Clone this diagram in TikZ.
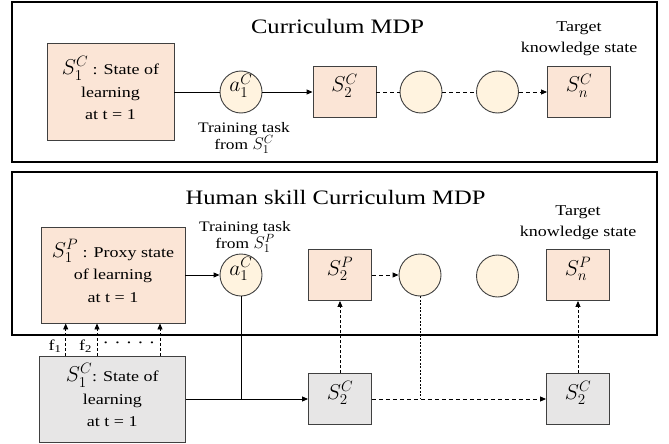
\documentclass[tikz,border=0pt]{standalone}
\usepackage{fix-cm}
\usepackage{fontspec}
\setmainfont{Liberation Serif}[FakeStretch=1.2]
\usepackage{graphicx}
\usetikzlibrary{arrows.meta}

\definecolor{peach}{HTML}{FBE5D6}
\definecolor{cream}{HTML}{FFF3DF}
\definecolor{greyfill}{HTML}{E7E6E6}
\definecolor{edgec}{HTML}{404040}

% font sizes (in pt; one picture unit is one pt)
\newcommand\bodysize{\fontsize{15}{22.5}\selectfont}
\newcommand\titlesize{\fontsize{20.5}{25}\selectfont}
\newcommand\notesize{\fontsize{15}{21}\selectfont}
\newcommand\tasksize{\fontsize{14.5}{17.5}\selectfont}
% state symbols are set larger than the surrounding text
\newcommand\stsym[1]{\smash{\fontsize{21.5}{23}\selectfont$#1$}}
\newcommand\smsym[1]{{\fontsize{17}{18}\selectfont$#1$}}

\begin{document}
\begin{tikzpicture}[x=1pt,y=-1pt,
  panel/.style={draw=black,line width=1.1pt},
  statebox/.style={draw=edgec,line width=0.9pt,fill=peach,inner sep=0pt,
    align=center,font=\bodysize},
  smallbox/.style={statebox,minimum width=63pt,minimum height=51pt},
  greybox/.style={statebox,fill=greyfill},
  taskcirc/.style={circle,draw=edgec,line width=0.9pt,fill=cream,
    minimum size=42pt,inner sep=0pt},
  wire/.style={draw=black,line width=0.9pt},
  headed/.style={-{Triangle[length=6pt,width=5pt]}},
  longdash/.style={dash pattern=on 4pt off 3pt},
  shortdash/.style={dash pattern=on 3pt off 2pt},
  finedash/.style={dash pattern=on 2pt off 1.5pt},
  caption/.style={inner sep=0pt,align=center}]

\fill[white] (0,0) rectangle (669,444);
\useasboundingbox (0,0) rectangle (669,444);

% ---------------- upper panel: curriculum MDP ----------------
\draw[panel] (12,2) rectangle (657,162);
\node[caption,font=\titlesize,anchor=base] (ttlA) at (337.5,34) {Curriculum MDP};
\node[caption,font=\notesize] (tgtA) at (579,39) {Target\\knowledge state};

\node[statebox,minimum width=127pt,minimum height=97pt] (s1c) at (110.5,92)
  {\stsym{S_1^C} : State of\\learning\\at t = 1};
\node[taskcirc] (a1t) at (241,92) {\stsym{a_1^C}};
\node[caption,font=\tasksize,anchor=north] (trA) at (244,122)
  {Training task\\from \smsym{S_1^C}};
\node[smallbox] (s2t) at (344.5,92) {\stsym{S_2^C}};
\node[taskcirc] (c2t) at (421,92) {};
\node[taskcirc] (c3t) at (497.5,92) {};
\node[smallbox] (snt) at (579,92) {\stsym{S_n^C}};

\draw[wire] (s1c.east) -- (a1t.west);
\draw[wire,headed] (a1t.east) -- (s2t.west);
\draw[wire,longdash] (s2t.east) -- (c2t.west);
\draw[wire,longdash] (c2t.east) -- (c3t.west);
\draw[wire,longdash,headed] (c3t.east) -- (snt.west);

% ---------------- lower panel: human skill curriculum MDP ----------------
\draw[panel] (12,172) rectangle (657,335);
\node[caption,font=\titlesize,anchor=base] (ttlB) at (335.5,204)
  {Human skill Curriculum MDP};
\node[caption,font=\notesize] (tgtB) at (578,222.5) {Target\\knowledge state};

\node[statebox,minimum width=144pt,minimum height=96pt] (s1p) at (113,275)
  {\stsym{S_1^P} : Proxy state\\of learning\\at t = 1};
\node[caption,font=\tasksize,anchor=south] (trB) at (245,253)
  {Training task\\from \smsym{S_1^P}};
\node[taskcirc] (a1b) at (241,275) {\stsym{a_1^C}};
\node[smallbox] (s2p) at (340,275) {\stsym{S_2^P}};
\node[taskcirc] (c2b) at (420,275) {};
\node[taskcirc] (c3b) at (497.5,276) {};
\node[smallbox] (snp) at (578,275) {\stsym{S_n^P}};

% actual learner states below the panel
\node[greybox,minimum width=145.5pt,minimum height=86pt] (g1) at (112.3,399)
  {\stsym{S_1^C}: State of\\learning\\at t = 1};
\node[smallbox,fill=greyfill] (g2) at (340,399) {\stsym{S_2^C}};
\node[smallbox,fill=greyfill] (g3) at (578,399) {\stsym{S_2^C}};

% feature arrows from the learner state to the proxy state
\coordinate (fa) at (65.7,340);
\coordinate (fb) at (97,340);
\coordinate (fc) at (160,340);
\draw[wire,shortdash,headed] (g1.north -| fa) -- (s1p.south -| fa);
\draw[wire,shortdash,headed] (g1.north -| fb) -- (s1p.south -| fb);
\draw[wire,shortdash,headed] (g1.north -| fc) -- (s1p.south -| fc);
\node[caption,font=\bodysize,anchor=base] (f1) at (55,350) {f\textsubscript{1}};
\node[caption,font=\bodysize,anchor=base] (f2) at (85.5,350) {f\textsubscript{2}};
\node[caption,font=\fontsize{8}{8}\selectfont] (fdots) at (129,344)
  {•\hspace{8.2pt}•\hspace{8.2pt}•\hspace{8.2pt}•\hspace{8.2pt}•};

% transitions
\coordinate (jn) at (a1b.south |- g2.west);
\draw[wire,headed] (s1p.east) -- (a1b.west);
\draw[wire,line width=0.7pt] (g1.east) -- (jn);
\draw[wire,headed] (a1b.south) |- (g2.west);
\draw[wire,longdash,headed] (s2p.east) -- (c2b.west);
\draw[wire,shortdash,headed] (g2.north) -- (s2p.south);
\draw[wire,line width=0.7pt,finedash] (c2b.south) -- (c2b.south |- g2.east);
\draw[wire,longdash,headed] (g2.east) -- (g3.west);
\draw[wire,shortdash,headed] (g3.north) -- (snp.south);

\end{tikzpicture}
\end{document}
